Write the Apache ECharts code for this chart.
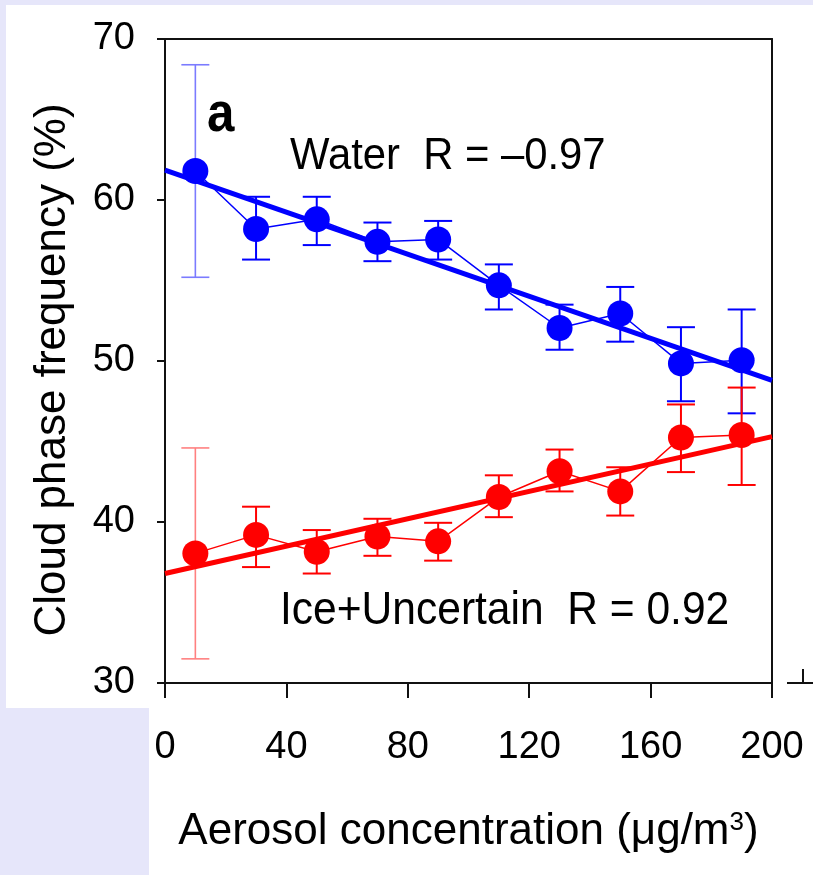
<!DOCTYPE html>
<html>
<head>
<meta charset="utf-8">
<script src="https://cdn.jsdelivr.net/npm/echarts@6/dist/echarts.min.js"></script>
<style>
html,body{margin:0;padding:0;background:#e6e6fa;}
#c{width:813px;height:875px;}
</style>
</head>
<body>
<div id="c"></div>
<script>
// ---------------- data ----------------
const xValues   = [10, 30, 50, 70, 90, 110, 130, 150, 170, 190];
const waterMean = [61.8, 58.2, 58.8, 57.4, 57.55, 54.7, 52.05, 52.95, 49.85, 50.05];
const waterHigh = [68.4, 60.2, 60.2, 58.6, 58.7, 56.0, 53.5, 54.6, 52.1, 53.2];
const waterLow  = [55.2, 56.3, 57.2, 56.2, 56.3, 53.2, 50.7, 51.2, 47.5, 46.75];
const iceMean   = [38.05, 39.2, 38.15, 39.1, 38.8, 41.55, 43.15, 41.9, 45.25, 45.4];
const iceHigh   = [44.6, 40.95, 39.5, 40.2, 39.95, 42.9, 44.5, 43.4, 47.3, 48.35];
const iceLow    = [31.5, 37.2, 36.8, 37.9, 37.6, 40.3, 41.9, 40.4, 43.1, 42.3];
const fitX      = [0, 200];
const waterFit  = [61.85, 48.8];
const iceFit    = [36.8, 45.3];
const xTicks    = [0, 40, 80, 120, 160, 200];
const yTicks    = [30, 40, 50, 60, 70];
const panelLabel = 'a';
const waterLabel = 'Water  R = \u20130.97';
const iceLabel   = 'Ice+Uncertain  R = 0.92';
const xTitle = 'Aerosol concentration (\u03bcg/m';
const xTitleSup = '3';
const yTitle = 'Cloud phase frequency (%)';

// ---------------- fonts ----------------
function hasFont(name){
  const ctx = document.createElement('canvas').getContext('2d');
  const s = 'mmmmmmmmmmlli0123456789WAR';
  ctx.font = '40px monospace'; const a = ctx.measureText(s).width;
  ctx.font = '40px "' + name + '", monospace'; const b = ctx.measureText(s).width;
  return a !== b;
}
const REG = '"Liberation Sans", Arial, Helvetica, sans-serif';
const narrow = hasFont('Liberation Sans Narrow');
const NAR = narrow ? '"Liberation Sans Narrow", ' + REG : REG;
const tickSize = narrow ? 43 : 38;
const tickMargin = narrow ? 43 : 46;
const titleSize = narrow ? 53 : 44;
const titleGap = narrow ? 119 : 127;

// ---------------- helpers ----------------
const BLUE = '#0000ff', BLUE_L = '#7b7bff';
const RED = '#ff0000', RED_L = '#ff8080';

function errRender(color, light){
  return function(params, api){
    const x = api.value(0), lo = api.value(1), hi = api.value(2);
    const a = api.coord([x, lo]), b = api.coord([x, hi]);
    const first = params.dataIndex === 0;
    const hw = 14;
    const style = {stroke: first ? light : color, lineWidth: first ? 1.6 : 2, fill: null};
    return {type: 'group', children: [
      {type: 'line', shape: {x1: a[0], y1: a[1], x2: b[0], y2: b[1]}, style: style},
      {type: 'line', shape: {x1: a[0] - hw, y1: a[1], x2: a[0] + hw, y2: a[1]}, style: style},
      {type: 'line', shape: {x1: b[0] - hw, y1: b[1], x2: b[0] + hw, y2: b[1]}, style: style}
    ]};
  };
}

const waterErr = xValues.map((x, i) => [x, waterLow[i], waterHigh[i]]);
const iceErr   = xValues.map((x, i) => [x, iceLow[i], iceHigh[i]]);
const waterPts = xValues.map((x, i) => [x, waterMean[i]]);
const icePts   = xValues.map((x, i) => [x, iceMean[i]]);
const waterFitPts = fitX.map((x, i) => [x, waterFit[i]]);
const iceFitPts   = fitX.map((x, i) => [x, iceFit[i]]);

function annot(text, x, y, size, weight, sx){
  return {type: 'text', x: x, y: y, scaleX: sx, z: 50,
    style: {text: text, x: 0, y: 0, fill: '#000',
      font: weight + ' ' + size + 'px ' + REG,
      align: 'left', verticalAlign: 'middle', textAlign: 'left', textVerticalAlign: 'middle'}};
}

const chart = echarts.init(document.getElementById('c'), null, {renderer: 'canvas'});
const AX = '#111';

chart.setOption({
  backgroundColor: '#e6e6fa',
  animation: false,
  grid: {left: 165, right: 41, top: 39, bottom: 192, containLabel: false},
  graphic: [
    {type: 'rect', z: -100, shape: {x: 6, y: 5, width: 807, height: 703}, style: {fill: '#ffffff'}},
    {type: 'rect', z: -100, shape: {x: 149, y: 700, width: 664, height: 175}, style: {fill: '#ffffff'}},
    {type: 'line', z: 5, shape: {x1: 787, y1: 683, x2: 813, y2: 683}, style: {stroke: AX, lineWidth: 2}},
    {type: 'line', z: 5, shape: {x1: 803, y1: 669, x2: 803, y2: 683}, style: {stroke: AX, lineWidth: 2}},
    annot(panelLabel, 207, 116, 56, 'bold', 0.88),
    annot(waterLabel, 290, 157, 44, 'normal', 0.95),
    annot(iceLabel, 280, 611, 47, 'normal', 0.905)
  ],
  xAxis: [{
    type: 'value', min: 0, max: 200, interval: 40,
    axisLine: {show: true, onZero: false, lineStyle: {color: AX, width: 2}},
    axisTick: {show: true, length: 15, inside: false, lineStyle: {color: AX, width: 2}},
    axisLabel: {show: true, margin: tickMargin, color: '#000', fontFamily: NAR, fontSize: tickSize,
      customValues: xTicks},
    splitLine: {show: false},
    name: '{t|' + xTitle + '}{s|' + xTitleSup + '}{t|)}',
    nameLocation: 'middle', nameGap: titleGap,
    nameTextStyle: {rich: {
      t: {fontFamily: NAR, fontSize: titleSize, color: '#000'},
      s: {fontFamily: NAR, fontSize: Math.round(titleSize * 0.6), color: '#000', verticalAlign: 'top', padding: [0, 0, 14, 0]}
    }}
  }, {
    type: 'value', min: 0, max: 200, position: 'top',
    axisLine: {show: true, onZero: false, lineStyle: {color: AX, width: 2}},
    axisTick: {show: false}, axisLabel: {show: false}, splitLine: {show: false}
  }],
  yAxis: [{
    type: 'value', min: 30, max: 70, interval: 10,
    axisLine: {show: true, onZero: false, lineStyle: {color: AX, width: 2}},
    axisTick: {show: true, length: 8, inside: false, lineStyle: {color: AX, width: 2}},
    axisLabel: {show: true, margin: 30, color: '#000', fontFamily: NAR, fontSize: tickSize,
      customValues: yTicks},
    splitLine: {show: false},
    name: yTitle, nameLocation: 'middle', nameGap: 90, nameRotate: 90,
    nameTextStyle: {fontFamily: REG, fontSize: 44, color: '#000', padding: [0, 18, 0, 0]}
  }, {
    type: 'value', min: 30, max: 70, position: 'right',
    axisLine: {show: true, onZero: false, lineStyle: {color: AX, width: 2}},
    axisTick: {show: false}, axisLabel: {show: false}, splitLine: {show: false}
  }],
  series: [
    {name: 'Water error', type: 'custom', renderItem: errRender(BLUE, BLUE_L), data: waterErr, z: 1,
      encode: {x: 0, y: [1, 2]}},
    {name: 'Ice error', type: 'custom', renderItem: errRender(RED, RED_L), data: iceErr, z: 1,
      encode: {x: 0, y: [1, 2]}},
    {name: 'Water fit', type: 'line', data: waterFitPts, symbol: 'none', z: 2,
      lineStyle: {color: BLUE, width: 5}},
    {name: 'Ice fit', type: 'line', data: iceFitPts, symbol: 'none', z: 2,
      lineStyle: {color: RED, width: 5}},
    {name: 'Water', type: 'line', data: waterPts, symbol: 'circle', symbolSize: 26, z: 3,
      lineStyle: {color: BLUE, width: 1.5}, itemStyle: {color: BLUE}},
    {name: 'Ice+Uncertain', type: 'line', data: icePts, symbol: 'circle', symbolSize: 26, z: 3,
      lineStyle: {color: RED, width: 1.5}, itemStyle: {color: RED}}
  ]
});
</script>
</body>
</html>
